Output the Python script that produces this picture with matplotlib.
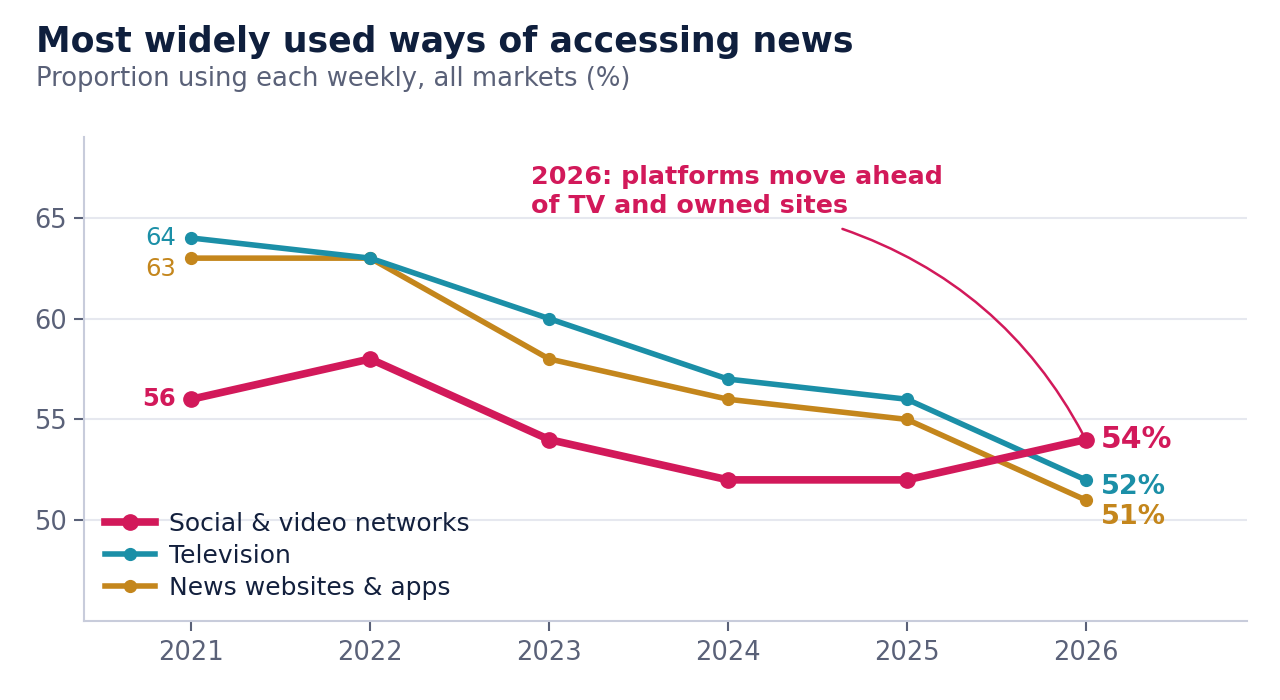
import matplotlib
matplotlib.use("Agg")
import matplotlib.pyplot as plt

years = [2021, 2022, 2023, 2024, 2025, 2026]
social = [56, 58, 54, 52, 52, 54]
tv = [64, 63, 60, 57, 56, 52]
news = [63, 63, 58, 56, 55, 51]

series_names = ["Social & video networks", "Television", "News websites & apps"]
colors = ["#d2195a", "#1b8fa7", "#c4861c"]

plt.rcParams['font.family'] = ['DejaVu Sans']

fig = plt.figure(figsize=(12.8, 7), dpi=100)
ax = fig.add_axes([0.0656, 0.1129, 0.9084, 0.6911])

ax.plot(years, social, color=colors[0], lw=5.5, marker='o', ms=11, label=series_names[0], zorder=5)
ax.plot(years, tv, color=colors[1], lw=4, marker='o', ms=8.5, label=series_names[1], zorder=4)
ax.plot(years, news, color=colors[2], lw=4, marker='o', ms=8.5, label=series_names[2], zorder=3)

ax.set_xlim(2020.4, 2026.9)
ax.set_ylim(45, 69)
ax.set_xticks(years)
ax.set_yticks([50, 55, 60, 65])
ax.grid(axis='y', color='#e6e8ef', lw=1.5)
ax.set_axisbelow(True)
for s in ['top', 'right']:
    ax.spines[s].set_visible(False)
for s in ['left', 'bottom']:
    ax.spines[s].set_color('#c8ccdb')
    ax.spines[s].set_linewidth(1.5)
ax.tick_params(colors='#5a6178', labelsize=18.5, length=7, width=1.5, pad=5)
ax.tick_params(axis='x', pad=7)

# start labels
ax.annotate(str(tv[0]), (years[0], tv[0]), xytext=(-11, 0), textcoords='offset points',
            ha='right', va='center', color=colors[1], fontsize=17.5)
ax.annotate(str(news[0]), (years[0], news[0]), xytext=(-11, -8), textcoords='offset points',
            ha='right', va='center', color=colors[2], fontsize=17.5)
ax.annotate(str(social[0]), (years[0], social[0]), xytext=(-11, 0), textcoords='offset points',
            ha='right', va='center', color=colors[0], fontsize=17.5, fontweight='bold')

# end labels
ax.annotate(f"{social[-1]}%", (years[-1], social[-1]), xytext=(11, 0), textcoords='offset points',
            ha='left', va='center', color=colors[0], fontsize=21.5, fontweight='bold')
ax.annotate(f"{tv[-1]}%", (years[-1], tv[-1]), xytext=(11, -5), textcoords='offset points',
            ha='left', va='center', color=colors[1], fontsize=19.5, fontweight='bold')
ax.annotate(f"{news[-1]}%", (years[-1], news[-1]), xytext=(11, -12.5), textcoords='offset points',
            ha='left', va='center', color=colors[2], fontsize=19.5, fontweight='bold')

ax.text(2022.9, 67.6, "2026: platforms move ahead\nof TV and owned sites", color=colors[0],
        fontsize=18.3, fontweight='bold', ha='left', va='top', linespacing=1.25)
ax.annotate("", xy=(years[-1], social[-1]), xytext=(2024.64, 64.45),
            arrowprops=dict(arrowstyle='-', color=colors[0], lw=1.8,
                            connectionstyle='arc3,rad=-0.2', shrinkA=0, shrinkB=4))

leg = ax.legend(loc='lower left', frameon=False, fontsize=18, labelcolor='#13203d',
                handlelength=2.0, handletextpad=0.55, borderaxespad=0.45, labelspacing=0.32)

fig.text(0.028, 0.926, "Most widely used ways of accessing news", fontsize=25, fontweight='bold',
         color='#0f1f3d', ha='left', va='baseline')
fig.text(0.028, 0.877, "Proportion using each weekly, all markets (%)", fontsize=18.6,
         color='#5a6178', ha='left', va='baseline')

fig.savefig("out.png", dpi=100)
